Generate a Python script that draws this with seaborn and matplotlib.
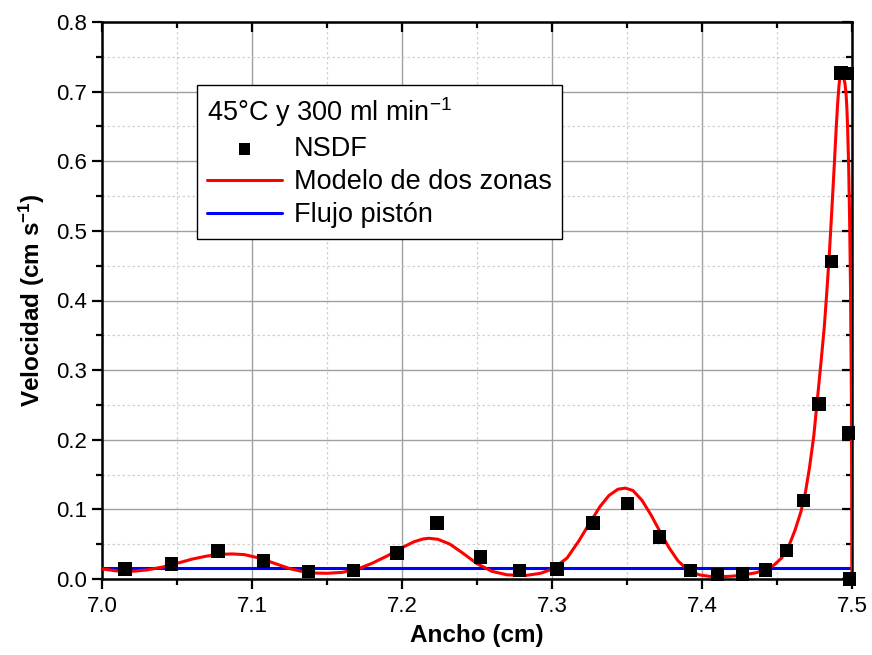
import matplotlib
matplotlib.use("Agg")
import matplotlib.pyplot as plt
import seaborn as sns
import pandas as pd
from matplotlib.ticker import MultipleLocator

# NSDF data points
nsdf_x = [7.0155, 7.0462, 7.0772, 7.1076, 7.1378, 7.1676, 7.1965, 7.2235,
          7.2522, 7.2784, 7.3033, 7.3273, 7.3504, 7.3718, 7.3922, 7.4104,
          7.4269, 7.4424, 7.4562, 7.4678, 7.4780, 7.4862, 7.4925, 7.4970,
          7.4978, 7.4982]
nsdf_y = [0.0145, 0.0217, 0.0400, 0.0256, 0.0106, 0.0121, 0.0372, 0.0807,
          0.0314, 0.0121, 0.0140, 0.0807, 0.1087, 0.0604, 0.0121, 0.0063,
          0.0072, 0.0130, 0.0410, 0.1126, 0.2510, 0.4560, 0.7270, 0.7260,
          0.2100, 0.0000]

# Two-zone model curve
model_x = [7.000, 7.010, 7.020, 7.030, 7.040, 7.050, 7.060, 7.070, 7.080,
           7.087, 7.095, 7.105, 7.115, 7.125, 7.135, 7.143, 7.150, 7.160,
           7.170, 7.180, 7.190, 7.200, 7.208, 7.214, 7.218, 7.224, 7.232,
           7.240, 7.250, 7.260, 7.270, 7.282, 7.292, 7.300, 7.310, 7.318,
           7.325, 7.332, 7.338, 7.344, 7.349, 7.354, 7.360, 7.366, 7.372,
           7.378, 7.384, 7.390, 7.398, 7.405, 7.412, 7.420, 7.428, 7.436,
           7.442, 7.448, 7.453, 7.458, 7.462, 7.466, 7.4690, 7.4716, 7.4745,
           7.4771, 7.4795, 7.4816, 7.4833, 7.4849, 7.4866, 7.4882, 7.4894,
           7.4904, 7.4913, 7.4920, 7.4927, 7.4933, 7.4940, 7.4946, 7.4953,
           7.4960, 7.4966, 7.4971, 7.4978, 7.4984, 7.4990, 7.4996, 7.4998,
           7.4999]
model_y = [0.0145, 0.0115, 0.0110, 0.0130, 0.0170, 0.0225, 0.0285, 0.0330,
           0.0355, 0.0360, 0.0350, 0.0300, 0.0225, 0.0150, 0.0100, 0.0085,
           0.0082, 0.0095, 0.0140, 0.0225, 0.0330, 0.0450, 0.0535, 0.0575,
           0.0585, 0.0570, 0.0500, 0.0380, 0.0220, 0.0110, 0.0060, 0.0050,
           0.0080, 0.0140, 0.0300, 0.0550, 0.0800, 0.1040, 0.1200, 0.1290,
           0.1305, 0.1270, 0.1130, 0.0920, 0.0680, 0.0450, 0.0260, 0.0140,
           0.0060, 0.0038, 0.0034, 0.0040, 0.0060, 0.0090, 0.0130, 0.0200,
           0.0300, 0.0480, 0.0700, 0.0970, 0.1250, 0.1590, 0.2050, 0.2620,
           0.3150, 0.3640, 0.4150, 0.4670, 0.5320, 0.5950, 0.6450, 0.6820,
           0.7080, 0.7230, 0.7275, 0.7260, 0.7220, 0.7180, 0.7120, 0.6980,
           0.6760, 0.6460, 0.5900, 0.5180, 0.4200, 0.2620, 0.1200, 0.0000]

# Plug flow (constant)
piston_x = [7.0, 7.5]
piston_y = [0.0155, 0.0155]

legend_title = "45°C y 300 ml min$^{-1}$"

sns.set_theme(style="white")
plt.rcParams['font.family'] = ['Liberation Sans', 'DejaVu Sans']
plt.rcParams['mathtext.fontset'] = 'custom'
plt.rcParams['mathtext.rm'] = 'Liberation Sans'
plt.rcParams['mathtext.it'] = 'Liberation Sans'
plt.rcParams['mathtext.bf'] = 'Liberation Sans:bold'
plt.rcParams['text.color'] = 'black'
plt.rcParams['axes.labelcolor'] = 'black'
plt.rcParams['xtick.color'] = 'black'
plt.rcParams['ytick.color'] = 'black'

fig = plt.figure(figsize=(8.72, 6.55), dpi=100)
ax = fig.add_axes([102/872, 1 - 579/655, 750/872, 557/655])

df_nsdf = pd.DataFrame({"x": nsdf_x, "y": nsdf_y})
df_model = pd.DataFrame({"x": model_x, "y": model_y})
df_piston = pd.DataFrame({"x": piston_x, "y": piston_y})

sns.lineplot(data=df_piston, x="x", y="y", ax=ax, color="#0000ff", lw=2.2,
             label="Flujo pistón", sort=False, zorder=3)
sns.lineplot(data=df_model, x="x", y="y", ax=ax, color="#ff0000", lw=2.2,
             label="Modelo de dos zonas", sort=False, zorder=4)
sns.scatterplot(data=df_nsdf, x="x", y="y", ax=ax, marker="s", s=95,
                color="black", edgecolor="none", label="NSDF", zorder=5,
                clip_on=False)

ax.set_xlim(7.0, 7.5)
ax.set_ylim(0.0, 0.8)
ax.xaxis.set_major_locator(MultipleLocator(0.1))
ax.xaxis.set_minor_locator(MultipleLocator(0.05))
ax.yaxis.set_major_locator(MultipleLocator(0.1))
ax.yaxis.set_minor_locator(MultipleLocator(0.05))
ax.xaxis.set_major_formatter(matplotlib.ticker.FormatStrFormatter("%.1f"))
ax.yaxis.set_major_formatter(matplotlib.ticker.FormatStrFormatter("%.1f"))

ax.grid(which="major", color="#a0a0a0", lw=1.0, ls="-")
ax.grid(which="minor", color="#d0d0d0", lw=0.9, ls=(0, (2, 2)))
ax.set_axisbelow(True)

for sp in ax.spines.values():
    sp.set_color("black")
    sp.set_linewidth(1.8)

ax.tick_params(which="both", bottom=True, left=True, top=True, right=True,
               color="black", width=1.6)
ax.tick_params(axis="x", which="major", direction="out", length=7,
               labelsize=16, pad=5, labelcolor="black")
ax.tick_params(axis="y", which="major", direction="out", length=7,
               labelsize=16, pad=4, labelcolor="black")
ax.tick_params(which="minor", direction="out", length=4)
for t in ax.xaxis.get_major_ticks() + ax.xaxis.get_minor_ticks():
    t.tick2line.set_marker(matplotlib.lines.TICKDOWN)
for t in ax.yaxis.get_major_ticks() + ax.yaxis.get_minor_ticks():
    t.tick2line.set_marker(matplotlib.lines.TICKLEFT)

ax.set_xlabel("Ancho (cm)", fontsize=17.5, fontweight="bold", labelpad=5,
              color="black")
ax.set_ylabel("Velocidad (cm s$^{\\mathbf{-1}}$)", fontsize=17.5,
              fontweight="bold", labelpad=6, color="black")

handles, labels = ax.get_legend_handles_labels()
order = [labels.index("NSDF"), labels.index("Modelo de dos zonas"),
         labels.index("Flujo pistón")]
leg = ax.legend([handles[i] for i in order], [labels[i] for i in order],
                title=legend_title, loc="upper left",
                bbox_to_anchor=((197 - 102)/750, 1 - (85 - 22)/557),
                borderaxespad=0, fontsize=19.5,
                title_fontsize=19.5, frameon=True, fancybox=False,
                edgecolor="black", framealpha=1, borderpad=0.38,
                handlelength=2.75, labelspacing=0.26, handletextpad=0.45,
                markerscale=0.85, labelcolor="black")
leg.get_title().set_color("black")
leg.get_frame().set_linewidth(1.0)
leg._legend_box.align = "left"
leg.set_zorder(10)

fig.savefig("out.png", dpi=100)
